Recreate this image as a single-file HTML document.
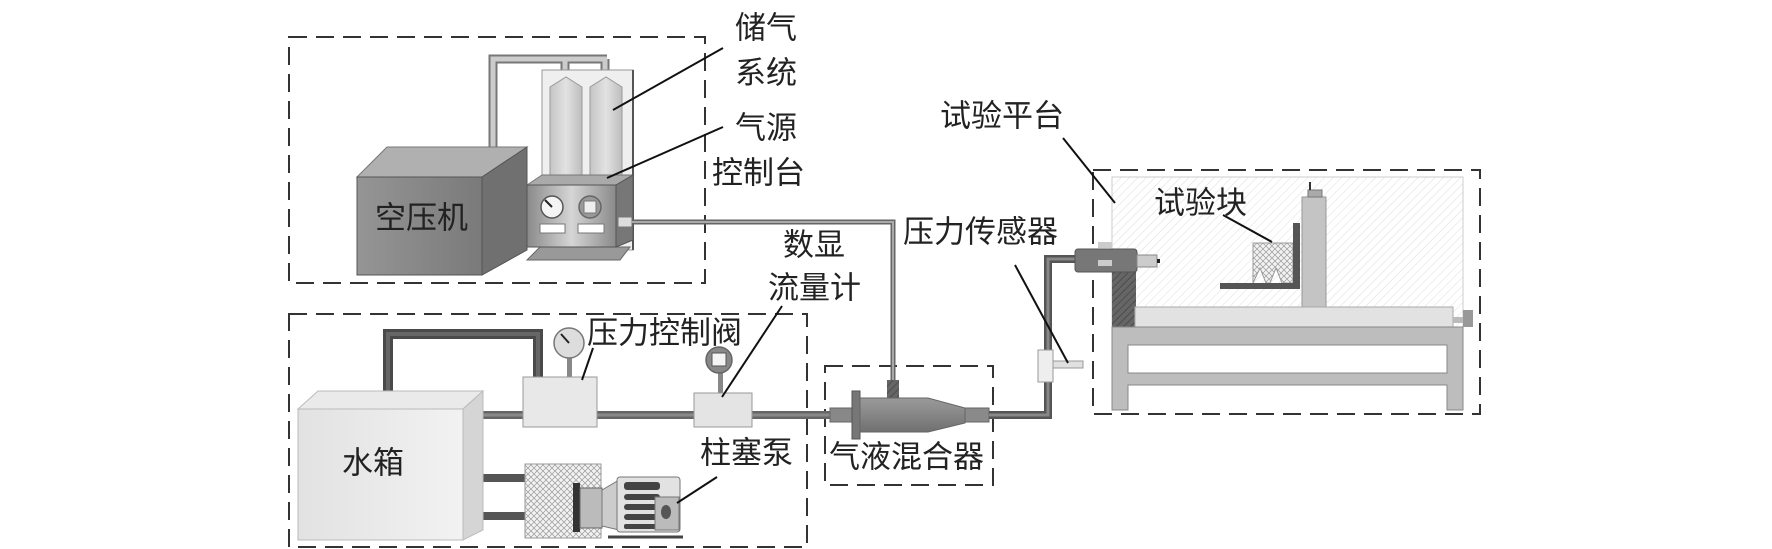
<!DOCTYPE html>
<html><head><meta charset="utf-8"><style>
html,body{margin:0;padding:0;background:#fff;}
svg{display:block;}
text{font-family:"Liberation Sans","Noto Sans CJK SC",sans-serif;font-size:31px;fill:#222;dominant-baseline:central;}
</style></head><body>
<svg width="1772" height="549" viewBox="0 0 1772 549" xmlns="http://www.w3.org/2000/svg">
<defs>
<linearGradient id="gComp" x1="0" x2="1"><stop offset="0" stop-color="#959595"/><stop offset="1" stop-color="#7a7a7a"/></linearGradient>
<linearGradient id="gCyl" x1="0" x2="1"><stop offset="0" stop-color="#c5c5c5"/><stop offset="0.5" stop-color="#e2e2e2"/><stop offset="1" stop-color="#bdbdbd"/></linearGradient>
<linearGradient id="gCon" x1="0" x2="1"><stop offset="0" stop-color="#8a8a8a"/><stop offset="0.5" stop-color="#d5d5d5"/><stop offset="1" stop-color="#8a8a8a"/></linearGradient>
<linearGradient id="gTank" x1="0" x2="1"><stop offset="0" stop-color="#e2e2e2"/><stop offset="1" stop-color="#f2f2f2"/></linearGradient>
<linearGradient id="gMix" x1="0" y1="0" x2="0" y2="1"><stop offset="0" stop-color="#9a9a9a"/><stop offset="0.4" stop-color="#8a8a8a"/><stop offset="1" stop-color="#707070"/></linearGradient>
<pattern id="hatch" width="6" height="6" patternUnits="userSpaceOnUse" patternTransform="rotate(45)"><line x1="0" y1="0" x2="0" y2="6" stroke="#ddd" stroke-width="1"/></pattern>
<pattern id="dhatch" width="5" height="5" patternUnits="userSpaceOnUse" patternTransform="rotate(45)"><rect width="5" height="5" fill="#666"/><line x1="0" y1="0" x2="0" y2="5" stroke="#444" stroke-width="1.5"/></pattern>
<pattern id="cross" width="6" height="6" patternUnits="userSpaceOnUse"><rect width="6" height="6" fill="#f2f2f2"/><path d="M0 0L6 6M6 0L0 6" stroke="#999" stroke-width="0.7"/></pattern>
</defs>

<g fill="none" stroke="#333" stroke-width="2" stroke-dasharray="18 9">
<rect x="289" y="37" width="416" height="246"/>
<rect x="289" y="314" width="518" height="233"/>
<rect x="825" y="366" width="168" height="119"/>
<rect x="1093" y="170" width="387" height="244"/>
</g>

<path d="M493 150 V59 H607 M565 59 V77 M605 59 V77" fill="none" stroke="#777" stroke-width="9"/>
<path d="M493 150 V59 H607 M565 59 V77 M605 59 V77" fill="none" stroke="#ccc" stroke-width="5"/>
<rect x="542" y="70" width="91" height="180" fill="#efefef" stroke="#999"/>
<line x1="633" y1="70" x2="633" y2="250" stroke="#555" stroke-width="2"/>
<path d="M550 87 L566 77 L582 87 V175 H550Z" fill="url(#gCyl)" stroke="#999"/>
<path d="M590 87 L606 77 L622 87 V175 H590Z" fill="url(#gCyl)" stroke="#999"/>
<polygon points="357,177 387,147 527,147 482,177" fill="#b0b0b0" stroke="#777"/>
<polygon points="482,177 527,147 527,250 482,275" fill="#707070" stroke="#555"/>
<rect x="357" y="177" width="125" height="98" fill="url(#gComp)" stroke="#555"/>
<text x="375" y="218">空压机</text>
<polygon points="540,247 630,247 620,260 527,260" fill="#999" stroke="#666"/>
<polygon points="527,185 542,175 633,175 616,185" fill="#aaa" stroke="#777"/>
<polygon points="616,185 633,175 633,240 616,247" fill="#777" stroke="#555"/>
<rect x="527" y="185" width="89" height="62" fill="url(#gCon)" stroke="#555"/>
<circle cx="552" cy="207" r="11" fill="#f4f4f4" stroke="#555" stroke-width="1.5"/>
<line x1="552" y1="207" x2="545" y2="200" stroke="#222" stroke-width="2"/>
<circle cx="590" cy="207" r="11" fill="#999" stroke="#666" stroke-width="1.5"/>
<rect x="584" y="201" width="12" height="12" fill="#eee" stroke="#777"/>
<rect x="540" y="224" width="25" height="9" fill="#fff" stroke="#777"/>
<rect x="578" y="224" width="26" height="9" fill="#fff" stroke="#777"/>
<rect x="618" y="217" width="14" height="10" fill="#ddd" stroke="#777"/>
<path d="M632 222 H893 V382" fill="none" stroke="#666" stroke-width="5"/>
<path d="M632 222 H893 V382" fill="none" stroke="#aaa" stroke-width="2"/>

<text x="735" y="28">储气</text>
<text x="735" y="73">系统</text>
<text x="735" y="128">气源</text>
<text x="712" y="173">控制台</text>
<line x1="723" y1="48" x2="613" y2="110" stroke="#111" stroke-width="2"/>
<line x1="723" y1="127" x2="607" y2="178" stroke="#111" stroke-width="2"/>

<path d="M388 400 V334 H538 V377" fill="none" stroke="#4a4a4a" stroke-width="10"/>
<path d="M388 400 V334 H538 V377" fill="none" stroke="#666" stroke-width="4"/>
<line x1="470" y1="415" x2="830" y2="415" stroke="#666" stroke-width="8"/>
<line x1="470" y1="415" x2="830" y2="415" stroke="#8a8a8a" stroke-width="3"/>
<line x1="470" y1="478" x2="526" y2="478" stroke="#555" stroke-width="8"/>
<line x1="470" y1="516" x2="526" y2="516" stroke="#555" stroke-width="8"/>
<polygon points="298,409 318,391 483,391 463,409" fill="#eaeaea" stroke="#bbb"/>
<polygon points="463,409 483,391 483,530 463,540" fill="#d5d5d5" stroke="#bbb"/>
<rect x="298" y="409" width="165" height="131" fill="url(#gTank)" stroke="#bbb"/>
<text x="342" y="463">水箱</text>
<rect x="567" y="355" width="5" height="22" fill="#888"/>
<circle cx="569" cy="343" r="15" fill="#ddd" stroke="#777" stroke-width="1.5"/>
<line x1="569" y1="343" x2="561" y2="334" stroke="#222" stroke-width="2"/>
<rect x="523" y="377" width="74" height="50" fill="#e8e8e8" stroke="#999"/>
<rect x="718" y="372" width="5" height="21" fill="#888"/>
<circle cx="719" cy="360" r="13" fill="#888" stroke="#666" stroke-width="1.5"/>
<rect x="712" y="353" width="14" height="13" fill="#f4f4f4" stroke="#555"/>
<rect x="694" y="393" width="58" height="34" fill="#e4e4e4" stroke="#999"/>
<rect x="525" y="464" width="76" height="74" fill="url(#cross)" stroke="#999"/>
<rect x="573" y="483" width="7" height="49" fill="#333"/>
<rect x="580" y="488" width="22" height="40" fill="#bbb" stroke="#666"/>
<polygon points="602,490 619,480 619,530 602,526" fill="#ccc" stroke="#777"/>
<rect x="617" y="477" width="63" height="55" rx="3" fill="#e2e2e2" stroke="#777"/>
<g fill="#444"><rect x="624" y="482" width="36" height="8" rx="3"/><rect x="624" y="494" width="36" height="6" rx="3"/><rect x="624" y="504" width="36" height="6" rx="3"/><rect x="624" y="514" width="36" height="6" rx="3"/><rect x="624" y="524" width="36" height="5" rx="2"/></g>
<rect x="655" y="497" width="24" height="33" fill="#bbb" stroke="#777"/>
<ellipse cx="666" cy="512" rx="5" ry="7" fill="#555"/>
<line x1="608" y1="537" x2="683" y2="537" stroke="#444" stroke-width="3"/>
<text x="587" y="333">压力控制阀</text>
<line x1="593" y1="348" x2="582" y2="380" stroke="#111" stroke-width="2"/>
<text x="783" y="245">数显</text>
<text x="768" y="288">流量计</text>
<line x1="782" y1="306" x2="722" y2="397" stroke="#111" stroke-width="2"/>
<text x="700" y="453">柱塞泵</text>
<line x1="717" y1="477" x2="677" y2="503" stroke="#111" stroke-width="2"/>

<rect x="887" y="380" width="12" height="19" fill="url(#dhatch)"/>
<rect x="830" y="408" width="22" height="14" fill="#888" stroke="#666"/>
<rect x="852" y="391" width="8" height="48" fill="#777" stroke="#555"/>
<path d="M860 398 H928 L965 408 V423 L928 432 H860Z" fill="url(#gMix)" stroke="#666"/>
<rect x="965" y="408" width="24" height="14" fill="#8a8a8a" stroke="#666"/>
<text x="829" y="457">气液混合器</text>
<path d="M989 415 H1048 V259 H1078" fill="none" stroke="#555" stroke-width="8"/>
<path d="M989 415 H1048 V259 H1078" fill="none" stroke="#888" stroke-width="3"/>
<rect x="1038" y="350" width="15" height="32" fill="#eee" stroke="#999"/>
<rect x="1053" y="361" width="30" height="7" fill="#e0e0e0" stroke="#999"/>
<text x="903" y="232">压力传感器</text>
<line x1="1015" y1="265" x2="1068" y2="363" stroke="#111" stroke-width="2"/>

<rect x="1112" y="177" width="351" height="150" fill="url(#hatch)" stroke="#ccc"/>
<rect x="1112" y="267" width="24" height="60" fill="url(#dhatch)"/>
<rect x="1075" y="249" width="62" height="23" rx="3" fill="#777" stroke="#555"/>
<rect x="1098" y="242" width="14" height="6" fill="#ccc"/>
<rect x="1098" y="260" width="14" height="6" fill="#ccc"/>
<rect x="1137" y="255" width="20" height="12" fill="#ccc" stroke="#888"/>
<rect x="1157" y="259" width="3" height="4" fill="#222"/>
<rect x="1302" y="197" width="24" height="110" fill="#c4c4c4" stroke="#999"/>
<rect x="1308" y="190" width="14" height="7" fill="#aaa" stroke="#777"/>
<line x1="1310" y1="182" x2="1310" y2="190" stroke="#333" stroke-width="2"/>
<path d="M1253 243 H1293 V283 H1282 L1276 268 L1270 283 H1266 L1260 268 L1253 283Z" fill="url(#cross)" stroke="#999"/>
<rect x="1293" y="223" width="7" height="66" fill="#555"/>
<rect x="1220" y="283" width="80" height="6" fill="#555"/>
<rect x="1135" y="307" width="318" height="20" fill="#e2e2e2" stroke="#aaa"/>
<rect x="1453" y="317" width="12" height="6" fill="#bbb"/>
<rect x="1463" y="310" width="10" height="17" fill="#999"/>
<path d="M1112 327 H1463 V410 H1447 V385 H1128 V410 H1112Z M1128 345 V373 H1447 V345Z" fill="#bdbdbd" fill-rule="evenodd" stroke="#888"/>
<text x="940" y="116">试验平台</text>
<line x1="1063" y1="138" x2="1115" y2="203" stroke="#111" stroke-width="2"/>
<text x="1154" y="203">试验块</text>
<line x1="1223" y1="215" x2="1272" y2="242" stroke="#111" stroke-width="2"/>
</svg>
</body></html>
